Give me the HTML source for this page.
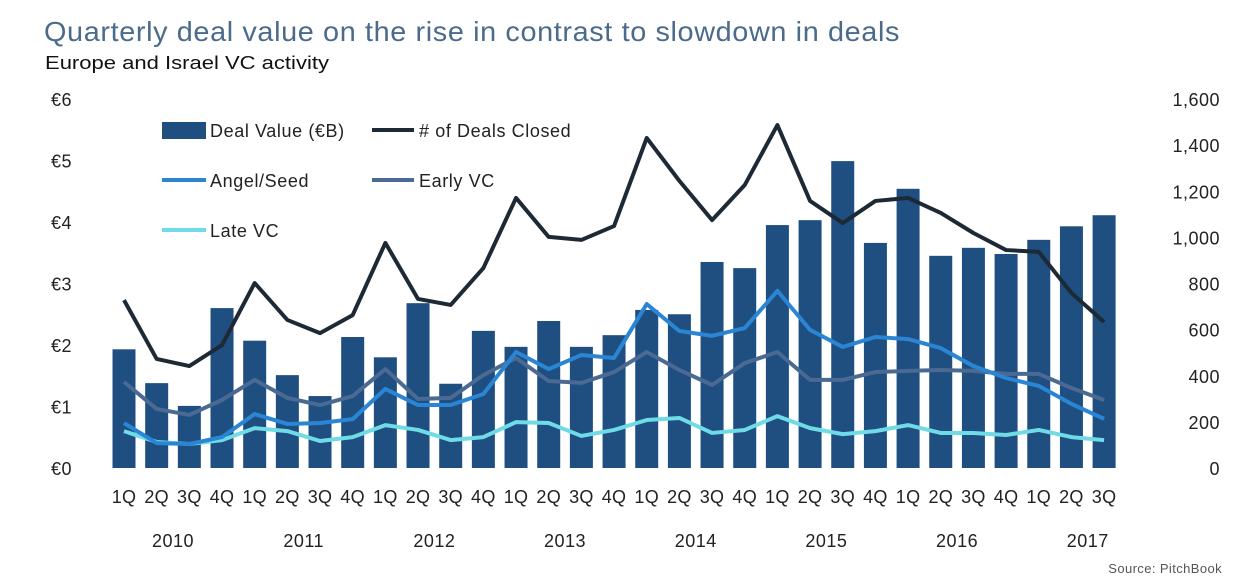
<!DOCTYPE html>
<html><head><meta charset="utf-8"><style>
body{margin:0;background:#fff;font-family:"Liberation Sans",sans-serif;}
</style></head><body>
<svg id="c" width="1256" height="581" xmlns="http://www.w3.org/2000/svg" font-family="Liberation Sans, sans-serif">
<text x="44" y="41" font-size="28" letter-spacing="0.6" fill="#4a6b8c" textLength="856" lengthAdjust="spacingAndGlyphs">Quarterly deal value on the rise in contrast to slowdown in deals</text>
<text x="45" y="69" font-size="18" fill="#111" textLength="284" lengthAdjust="spacingAndGlyphs">Europe and Israel VC activity</text>
<text x="1222" y="573" font-size="13" fill="#555" text-anchor="end" letter-spacing="0.4">Source: PitchBook</text>
<g id="legend" font-size="18" letter-spacing="0.6">
<rect x="162" y="122" width="44" height="17" fill="#1f4e80"/><text x="210" y="137" fill="#222">Deal Value (€B)</text>
<line x1="372" y1="130" x2="414" y2="130" stroke="#1d2a36" stroke-width="4"/><text x="419" y="137" fill="#222"># of Deals Closed</text>
<line x1="162" y1="180" x2="206" y2="180" stroke="#2a86d4" stroke-width="4"/><text x="210" y="187" fill="#222">Angel/Seed</text>
<line x1="372" y1="180" x2="414" y2="180" stroke="#4a6a94" stroke-width="4"/><text x="419" y="187" fill="#222">Early VC</text>
<line x1="162" y1="230" x2="206" y2="230" stroke="#6fdbe6" stroke-width="4"/><text x="210" y="237" fill="#222">Late VC</text>
</g>
</svg>
<script>
const quarters=["1Q","2Q","3Q","4Q","1Q","2Q","3Q","4Q","1Q","2Q","3Q","4Q","1Q","2Q","3Q","4Q","1Q","2Q","3Q","4Q","1Q","2Q","3Q","4Q","1Q","2Q","3Q","4Q","1Q","2Q","3Q"];
const years=["2010","2011","2012","2013","2014","2015","2016","2017"];
const dealValue=[1.93,1.38,1.01,2.6,2.07,1.51,1.17,2.13,1.8,2.68,1.37,2.23,1.97,2.39,1.97,2.16,2.57,2.5,3.35,3.25,3.95,4.03,4.99,3.66,4.54,3.45,3.58,3.48,3.71,3.93,4.11];
const dealsClosed=[728,473,442,533,802,642,585,663,976,733,707,867,1171,1002,989,1049,1431,1245,1075,1227,1487,1158,1062,1158,1171,1106,1019,945,937,759,633];
const angelSeed=[195,108,104,134,234,191,195,212,343,273,273,321,503,429,490,477,711,594,573,607,768,599,525,568,559,520,442,390,356,278,213];
const earlyVC=[373,256,230,295,382,304,273,312,429,299,304,403,477,377,369,416,503,425,360,455,503,382,382,416,421,425,421,408,408,347,295];
const lateVC=[160,113,104,121,173,160,117,134,186,165,121,134,199,195,139,165,208,217,152,165,225,173,147,160,186,152,152,143,165,134,121];
const leftTicks=["€0","€1","€2","€3","€4","€5","€6"];
const rightTicks=["0","200","400","600","800","1,000","1,200","1,400","1,600"];
const svg=document.getElementById('c');const NS="http://www.w3.org/2000/svg";
const y0=468,yTop=99,x0=124,step=32.67;
const X=i=>x0+i*step;
const YL=v=>y0-v/6*(y0-yTop);
const YR=v=>y0-v/1600*(y0-yTop);
function mk(t,a){const e=document.createElementNS(NS,t);for(const k in a)e.setAttribute(k,a[k]);svg.insertBefore(e,document.getElementById('legend'));return e;}
leftTicks.forEach((t,i)=>{const e=mk('text',{x:72,y:YL(i)+7,'font-size':18,'letter-spacing':0.5,fill:'#222','text-anchor':'end'});e.textContent=t;

});
rightTicks.forEach((t,i)=>{const e=mk('text',{x:1220,y:YR(i*200)+7,'font-size':18,'letter-spacing':0.5,fill:'#222','text-anchor':'end'});e.textContent=t;

});
dealValue.forEach((v,i)=>{const e=mk('rect',{x:X(i)-11.5,y:YL(v),width:23,height:y0-YL(v),fill:'#1f4e80'});

});
quarters.forEach((q,i)=>{const e=mk('text',{x:X(i),y:503,'font-size':18,'letter-spacing':0.3,fill:'#222','text-anchor':'middle'});e.textContent=q;

});
years.forEach((yv,i)=>{const e=mk('text',{x:X(i*4+1.5),y:547,'font-size':18,'letter-spacing':0.5,fill:'#222','text-anchor':'middle'});e.textContent=yv;

});
function line(arr,col,name){const e=mk('polyline',{points:arr.map((v,i)=>X(i)+','+YR(v)).join(' '),fill:'none',stroke:col,'stroke-width':4,'stroke-linejoin':'round'});

}
line(lateVC,'#6fdbe6','late-vc-line');
line(earlyVC,'#4a6a94','early-vc-line');
line(angelSeed,'#2a86d4','angel-seed-line');
line(dealsClosed,'#1d2a36','deals-closed-line');
</script>
</body></html>
